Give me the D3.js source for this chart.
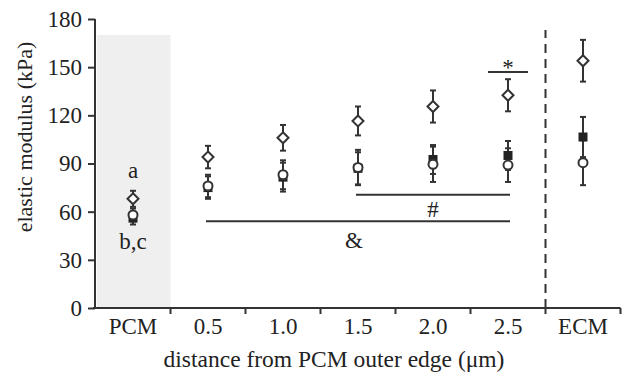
<!DOCTYPE html>
<html><head><meta charset="utf-8">
<script src="https://cdn.jsdelivr.net/npm/d3@7"></script>
<style>body{margin:0;background:#fff}text{font-family:"Liberation Serif","Times New Roman",serif;fill:#222}</style>
</head><body><svg id="c" width="628" height="381"></svg>
<script>
const categories = ["PCM","0.5","1.0","1.5","2.0","2.5","ECM"];
const yTicks = [0,30,60,90,120,150,180];
const diamondMean = [68, 94, 106, 116.5, 125.5, 132.5, 154];
const diamondErr  = [5, 7, 8, 9, 10, 10, 13];
const squareMean  = [56, 75, 81.5, 87, 92.5, 95, 106.5];
const squareErr   = [4, 7, 9, 10, 9, 9, 12.5];
const circleMean  = [58, 76, 83, 87.5, 89.5, 89, 90.5];
const circleErr   = [4, 7, 9, 11, 11, 10.5, 14];
const sigLines = [
  {label:"*", from:"2.5", to:"2.5", value:147},
  {label:"#", from:"1.5", to:"2.5", value:70.5},
  {label:"&", from:"0.5", to:"2.5", value:54}
];
const groupLabels = [{cat:"PCM", text:"a", value:81},{cat:"PCM", text:"b,c", value:37}];
const shadeTop = 170;
const xTitle = "distance from PCM outer edge (\u03bcm)";
const yTitle = "elastic modulus (kPa)";

const svg = d3.select("#c");
const ink = "#333";
const fs = 23;
const x = d3.scaleBand().domain(categories).range([95.5, 620.5]).padding(0);
const y = d3.scaleLinear().domain([0,180]).range([308, 19]);
const cx = c => x(c) + x.bandwidth()/2;

// shaded PCM region
svg.append("rect").attr("x", x("PCM")+1.5).attr("y", y(shadeTop))
  .attr("width", x.bandwidth()-1.5).attr("height", y(0)-y(shadeTop)).attr("fill","#efefef");

// dashed separator
svg.append("line").attr("x1", x("ECM")).attr("x2", x("ECM"))
  .attr("y1", y(0)).attr("y2", 30).attr("stroke", ink).attr("stroke-width", 2)
  .attr("stroke-dasharray","9,6");

// y axis
const ya = svg.append("g").attr("transform","translate(95,0)")
  .call(d3.axisLeft(y).tickValues(yTicks).tickSize(7).tickPadding(6));
ya.select(".domain").attr("stroke", ink).attr("stroke-width", 2).attr("d", `M0,${y(180)}V${y(0)}`);
ya.selectAll(".tick line").attr("stroke", ink).attr("stroke-width", 2);
ya.selectAll(".tick text").attr("font-size", fs).attr("font-family","Liberation Serif").attr("fill","#222");

// x axis
const xa = svg.append("g").attr("transform",`translate(0,${y(0)})`)
  .call(d3.axisBottom(x).tickSize(0).tickPadding(10));
xa.select(".domain").attr("stroke", ink).attr("stroke-width", 2).attr("d", `M93,0H${x.range()[1]}`);
xa.selectAll(".tick text").attr("font-size", fs).attr("font-family","Liberation Serif").attr("fill","#222").attr("dy","0.71em");
const bounds = categories.slice(1).map(c => x(c)).concat([x.range()[1]]);
xa.selectAll("line.bt").data(bounds).join("line").attr("class","bt")
  .attr("x1", d=>d).attr("x2", d=>d).attr("y1",0).attr("y2",6)
  .attr("stroke", ink).attr("stroke-width", 2);

// titles
svg.append("text").attr("x", 334).attr("y", 367).attr("text-anchor","middle")
  .attr("font-size", 23.5).text(xTitle);
svg.append("text").attr("transform","translate(32,137) rotate(-90)").attr("text-anchor","middle")
  .attr("font-size", 22).text(yTitle);

// error bars
function errBars(means, errs) {
  const g = svg.append("g").attr("stroke", ink).attr("stroke-width", 2);
  categories.forEach((c, i) => {
    const hi = y(means[i] + errs[i]), lo = y(means[i] - errs[i]), X = cx(c);
    g.append("line").attr("x1",X).attr("x2",X).attr("y1",hi).attr("y2",lo);
    g.append("line").attr("x1",X-3).attr("x2",X+3).attr("y1",hi).attr("y2",hi);
    g.append("line").attr("x1",X-3).attr("x2",X+3).attr("y1",lo).attr("y2",lo);
  });
}
errBars(squareMean, squareErr);
errBars(circleMean, circleErr);
errBars(diamondMean, diamondErr);

// markers
svg.append("g").selectAll("rect").data(squareMean).join("rect")
  .attr("x",(d,i)=>cx(categories[i])-4.5).attr("y",d=>y(d)-4.5)
  .attr("width",9).attr("height",9).attr("fill","#222");
svg.append("g").selectAll("circle").data(circleMean).join("circle")
  .attr("cx",(d,i)=>cx(categories[i])).attr("cy",d=>y(d)).attr("r",4.5)
  .attr("fill","#fff").attr("stroke",ink).attr("stroke-width",2);
svg.append("g").selectAll("path").data(diamondMean).join("path")
  .attr("d",(d,i)=>{const X=cx(categories[i]),Y=y(d);return `M${X},${Y-5.5}L${X+5.5},${Y}L${X},${Y+5.5}L${X-5.5},${Y}Z`;})
  .attr("fill","#fff").attr("stroke",ink).attr("stroke-width",2);

// significance lines
sigLines.forEach(s => {
  let x1 = cx(s.from), x2 = cx(s.to);
  if (s.from === s.to) { x1 -= 20; x2 += 20; }
  else { x1 -= 2; x2 += 2; }
  const Y = y(s.value);
  svg.append("line").attr("x1",x1).attr("x2",x2).attr("y1",Y).attr("y2",Y)
    .attr("stroke",ink).attr("stroke-width",2);
  const above = s.label === "*";
  svg.append("text").attr("x",(x1+x2)/2 - (s.label==="&"?4:0)).attr("y", above ? Y+3 : Y + (s.label==="#"?22:27))
    .attr("text-anchor","middle").attr("font-size", fs).text(s.label);
});

// group labels
groupLabels.forEach(g => {
  svg.append("text").attr("x", cx(g.cat)).attr("y", y(g.value)).attr("text-anchor","middle")
    .attr("font-size", fs).text(g.text);
});
</script></body></html>
